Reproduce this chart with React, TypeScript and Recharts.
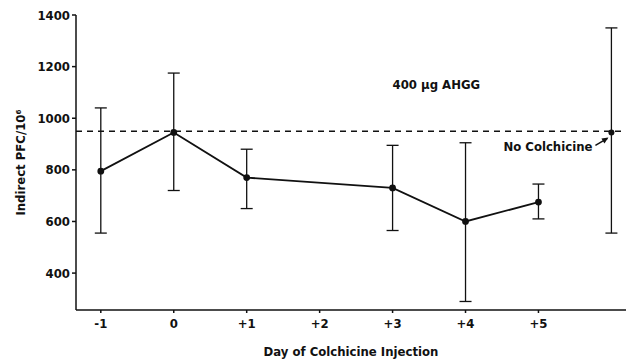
import { ComposedChart, Line, Scatter, XAxis, YAxis, ErrorBar, ReferenceLine, ReferenceDot } from 'recharts';

const days = [-1, 0, 1, 3, 4, 5];
const means = [795, 945, 770, 730, 600, 675];
const lows = [555, 720, 650, 565, 290, 610];
const highs = [1040, 1175, 880, 895, 905, 745];

const noColDay = 6;
const noColMean = 945;
const noColLow = 555;
const noColHigh = 1350;

const refLevel = 950;
const xTicks = [-1, 0, 1, 2, 3, 4, 5];
const xTickLabels = ['-1', '0', '+1', '+2', '+3', '+4', '+5'];
const yTicks = [400, 600, 800, 1000, 1200, 1400];

const font = "'DejaVu Sans Condensed', 'DejaVu Sans', sans-serif";
const textStyle = { fontStretch: 'condensed' as const };

const lineData = days.map((d, i) => ({
  day: d,
  value: means[i],
  err: [means[i] - lows[i], highs[i] - means[i]],
}));

const noColData = [
  { day: noColDay, value: noColMean, err: [noColMean - noColLow, noColHigh - noColMean] },
];

const NoColLabel = (props: any) => {
  const { viewBox } = props;
  const cx = viewBox.x + viewBox.width / 2;
  const cy = viewBox.y + viewBox.height / 2;
  return (
    <g>
      <text x={cx - 19} y={cy + 19} textAnchor="end" fontFamily={font} fontWeight="bold" fontSize={13} fill="#111" style={textStyle}>
        No Colchicine
      </text>
      <line x1={cx - 16} y1={cy + 13} x2={cx - 4} y2={cy + 6} stroke="#111" strokeWidth={1.5} />
      <path d={`M${cx - 3} ${cy + 5} L${cx - 10} ${cy + 6} L${cx - 7} ${cy + 11} Z`} fill="#111" />
    </g>
  );
};

const AhggLabel = (props: any) => {
  const { viewBox } = props;
  const cx = viewBox.x + viewBox.width / 2;
  const cy = viewBox.y + viewBox.height / 2;
  return (
    <text x={cx} y={cy} textAnchor="middle" dominantBaseline="central" fontFamily={font} fontWeight="bold" fontSize={13} fill="#111" style={textStyle}>
      400 µg AHGG
    </text>
  );
};

const tickStyle = { fill: '#111', fontSize: 13, fontFamily: font, fontWeight: 'bold', style: textStyle };

export default function App() {
  return (
    <div style={{ position: 'absolute', left: 0, top: 0, width: 627, height: 362, background: '#fff' }}>
      <ComposedChart width={627} height={362} margin={{ top: 15, right: 1, left: 0, bottom: 0 }}>
        <XAxis
          type="number"
          dataKey="day"
          domain={[-1.34, 6.2]}
          ticks={xTicks}
          tickFormatter={(v: number) => xTickLabels[xTicks.indexOf(v)] ?? ''}
          height={52}
          stroke="#111"
          strokeWidth={1.5}
          tickSize={3}
          tick={{ ...tickStyle, dy: 4 }}
          label={{ value: 'Day of Colchicine Injection', position: 'insideBottom', offset: 6, ...tickStyle }}
        />
        <YAxis
          type="number"
          domain={[257, 1400]}
          ticks={yTicks}
          width={76}
          stroke="#111"
          strokeWidth={1.5}
          tickSize={4}
          tick={tickStyle}
          label={{ value: 'Indirect PFC/10⁶', angle: -90, position: 'insideLeft', offset: 20, ...tickStyle, style: { ...textStyle, textAnchor: 'middle' } }}
        />
        <ReferenceLine y={refLevel} stroke="#111" strokeWidth={1.5} strokeDasharray="6 5" />
        <ReferenceDot x={3.6} y={1130} r={0} fill="none" stroke="none" label={<AhggLabel />} />
        <Line
          data={lineData}
          dataKey="value"
          stroke="#111"
          strokeWidth={1.8}
          type="linear"
          dot={{ r: 2.5, fill: '#111', stroke: '#111' }}
          isAnimationActive={false}
        >
          <ErrorBar dataKey="err" width={6} stroke="#111" strokeWidth={1.3} direction="y" />
        </Line>
        <Scatter data={noColData} dataKey="value" fill="#111" shape={(p: any) => <circle cx={p.cx} cy={p.cy} r={3} fill="#111" />} isAnimationActive={false}>
          <ErrorBar dataKey="err" width={6} stroke="#111" strokeWidth={1.3} direction="y" />
        </Scatter>
        <ReferenceDot x={noColDay} y={noColMean} r={0} fill="none" stroke="none" label={<NoColLabel />} />
      </ComposedChart>
    </div>
  );
}
